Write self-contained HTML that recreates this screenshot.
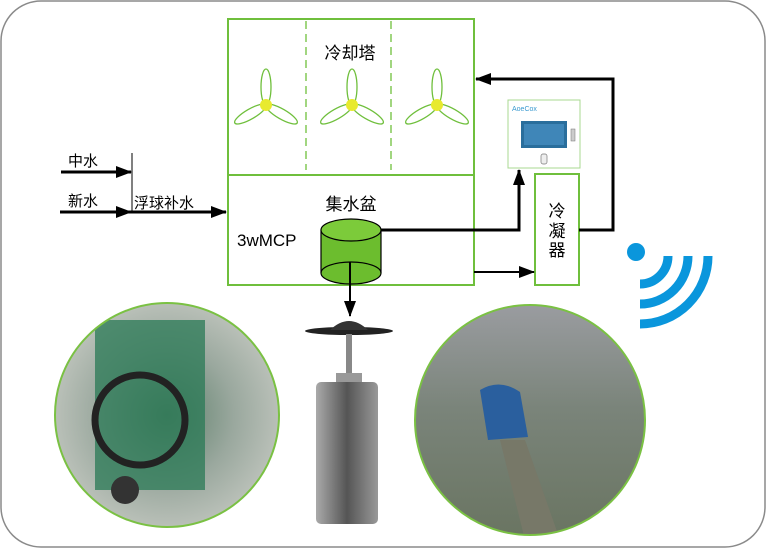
<!DOCTYPE html>
<html><head><meta charset="utf-8"><style>
body{margin:0;background:#fff}
svg text{font-family:"Liberation Sans","Noto Sans CJK SC",sans-serif}
</style></head><body>
<svg width="766" height="548" viewBox="0 0 766 548" xmlns="http://www.w3.org/2000/svg">
<defs>
<marker id="ah2" markerWidth="16" markerHeight="12" refX="15" refY="6" orient="auto" markerUnits="userSpaceOnUse"><path d="M0,0L16,6L0,12z" fill="#000"/></marker>
<radialGradient id="p1" cx="0.5" cy="0.5" r="0.6"><stop offset="0" stop-color="#5d7f6a"/><stop offset="0.5" stop-color="#9aa89e"/><stop offset="1" stop-color="#c9ccc5"/></radialGradient>
<linearGradient id="p2" x1="0" y1="0" x2="0" y2="1"><stop offset="0" stop-color="#9a9ca0"/><stop offset="0.45" stop-color="#7a847a"/><stop offset="1" stop-color="#6a7562"/></linearGradient>
<linearGradient id="flt" x1="0" y1="0" x2="1" y2="0"><stop offset="0" stop-color="#aaa"/><stop offset="0.5" stop-color="#555"/><stop offset="1" stop-color="#999"/></linearGradient>
<g id="fan" fill="none" stroke="#6fbf3c" stroke-width="1.3">
<ellipse cx="0" cy="-18" rx="5" ry="18"/>
<ellipse cx="0" cy="-18" rx="5" ry="18" transform="rotate(120)"/>
<ellipse cx="0" cy="-18" rx="5" ry="18" transform="rotate(240)"/>
</g>
</defs>
<rect x="1" y="1" width="764" height="546" rx="40" fill="#fff" stroke="#8a8a8a" stroke-width="1.5"/>
<!-- tower -->
<rect x="228" y="19" width="246" height="266" fill="none" stroke="#6fbf3c" stroke-width="2"/>
<line x1="228" y1="175" x2="474" y2="175" stroke="#6fbf3c" stroke-width="2"/>
<line x1="306" y1="21" x2="306" y2="170" stroke="#6fbf3c" stroke-width="1.3" stroke-dasharray="8,5"/>
<line x1="391" y1="21" x2="391" y2="170" stroke="#6fbf3c" stroke-width="1.3" stroke-dasharray="8,5"/>
<text x="350" y="59" font-size="17" text-anchor="middle">冷却塔</text>
<use href="#fan" transform="translate(266,105)"/>
<use href="#fan" transform="translate(352,105)"/>
<use href="#fan" transform="translate(437,105)"/>
<circle cx="266" cy="105" r="6" fill="#e8ea2e"/><circle cx="352" cy="105" r="6" fill="#e8ea2e"/><circle cx="437" cy="105" r="6" fill="#e8ea2e"/>
<!-- controller -->
<rect x="508" y="100" width="72" height="68" fill="#fff" stroke="#a8d890" stroke-width="1"/>
<text x="512" y="111" font-size="7" fill="#3a9ad0">AoeCox</text>
<rect x="521" y="121" width="46" height="27" fill="#2a6e9c"/>
<rect x="524" y="124" width="40" height="21" fill="#3f86b8"/>
<rect x="571" y="129" width="4" height="12" fill="#ccc" stroke="#777" stroke-width="0.5"/>
<rect x="541" y="154" width="6" height="10" rx="2" fill="#eee" stroke="#777" stroke-width="0.7"/>
<!-- condenser -->
<rect x="535" y="174" width="44" height="111" fill="#fff" stroke="#6fbf3c" stroke-width="2"/>
<text x="557" y="217" font-size="17" text-anchor="middle">冷</text>
<text x="557" y="237" font-size="17" text-anchor="middle">凝</text>
<text x="557" y="256" font-size="17" text-anchor="middle">器</text>
<!-- connectors -->
<polyline points="579,230 613,230 613,79 476,79" fill="none" stroke="#000" stroke-width="3" marker-end="url(#ah2)"/>
<polyline points="381,230 519,230 519,170" fill="none" stroke="#000" stroke-width="3" marker-end="url(#ah2)"/>
<line x1="474" y1="272" x2="534" y2="272" stroke="#000" stroke-width="2" marker-end="url(#ah2)"/>
<text x="237" y="246" font-size="17">3wMCP</text>
<text x="351" y="210" font-size="17" text-anchor="middle">集水盆</text>
<!-- cylinder -->
<path d="M321,230 L321,273 A30,11 0 0 0 381,273 L381,230 Z" fill="#6cbd2e" stroke="#000" stroke-width="1.2"/>
<ellipse cx="351" cy="230" rx="30" ry="11" fill="#7ccb3a" stroke="#000" stroke-width="1.2"/>
<path d="M321,273 A30,11 0 0 1 381,273" fill="none" stroke="#000" stroke-width="1.2"/>
<line x1="350" y1="262" x2="350" y2="316" stroke="#000" stroke-width="2" marker-end="url(#ah2)"/>
<!-- inputs -->
<text x="68" y="166" font-size="15">中水</text>
<text x="68" y="206" font-size="15">新水</text>
<text x="134" y="208" font-size="15">浮球补水</text>
<line x1="132" y1="153" x2="132" y2="212" stroke="#000" stroke-width="1"/>
<line x1="61" y1="172" x2="131" y2="172" stroke="#000" stroke-width="3" marker-end="url(#ah2)"/>
<line x1="60" y1="212" x2="131" y2="212" stroke="#000" stroke-width="3" marker-end="url(#ah2)"/>
<line x1="131" y1="212" x2="226" y2="212" stroke="#000" stroke-width="3" marker-end="url(#ah2)"/>
<!-- wifi -->
<circle cx="636" cy="252" r="9" fill="#0a96dc"/>
<g fill="none" stroke="#0a96dc" stroke-width="9">
<path d="M664,252 A28,28 0 0 1 636,280" transform="translate(4,4)"/>
<path d="M684,252 A48,48 0 0 1 636,300" transform="translate(4,4)"/>
<path d="M704,252 A68,68 0 0 1 636,320" transform="translate(4,4)"/>
</g>
<!-- photos -->
<clipPath id="c1"><circle cx="167" cy="415" r="112"/></clipPath>
<clipPath id="c2"><circle cx="530" cy="420" r="115"/></clipPath>
<circle cx="167" cy="415" r="112" fill="url(#p1)"/>
<g clip-path="url(#c1)">
<rect x="95" y="320" width="110" height="170" fill="#2a7a55" opacity="0.75"/>
<circle cx="140" cy="420" r="45" fill="none" stroke="#222" stroke-width="7"/>
<circle cx="125" cy="490" r="14" fill="#333"/>
</g>
<circle cx="167" cy="415" r="112" fill="none" stroke="#7ac143" stroke-width="2"/>
<circle cx="530" cy="420" r="115" fill="url(#p2)"/>
<g clip-path="url(#c2)">
<path d="M500,440 L525,440 L560,540 L525,540 Z" fill="#777868"/>
<path d="M480,390 q20,-12 40,2 l8,45 -40,3z" fill="#2a5f9e"/>
</g>
<circle cx="530" cy="420" r="115" fill="none" stroke="#7ac143" stroke-width="2"/>
<!-- filter -->
<ellipse cx="349" cy="331" rx="44" ry="4" fill="#222"/>
<path d="M330,330 Q349,312 368,330" fill="#333"/>
<rect x="346" y="334" width="6" height="40" fill="#888"/>
<rect x="336" y="373" width="26" height="12" fill="#999"/>
<rect x="316" y="382" width="62" height="142" rx="5" fill="url(#flt)"/>
</svg>
</body></html>
